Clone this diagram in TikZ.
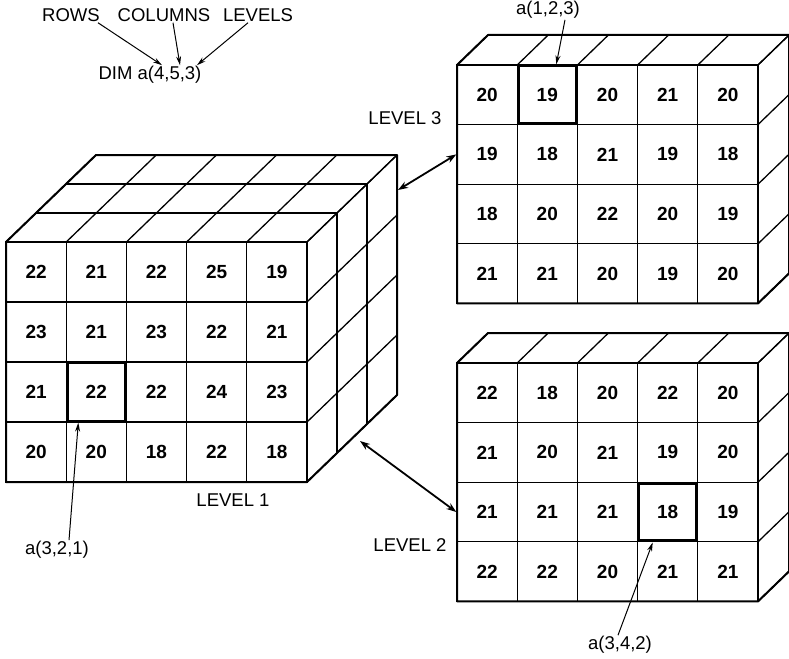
\documentclass[tikz,border=0pt]{standalone}
\usepackage{fontspec}
\setmainfont{Liberation Sans}
\usetikzlibrary{arrows.meta,calc,positioning}

\tikzset{
  cell/.style={draw,line width=1.3pt,minimum width=60.2pt,minimum height=60pt,
    inner sep=0pt,font=\fontsize{19}{19}\selectfont\bfseries},
  gridline/.style={line width=1.3pt,line join=round},
  rim/.style={line width=2pt,line join=round},
  picked/.style={line width=3pt},
  lbl/.style={font=\fontsize{18.5}{20}\selectfont,inner sep=1pt},
  pointer/.style={line width=1pt,-{Stealth[length=9pt,width=5pt]}},
  link/.style={line width=1.8pt,{Stealth[length=10pt,width=7pt]}-{Stealth[length=10pt,width=7pt]}},
}

\begin{document}
\begin{tikzpicture}[x=1pt,y=-1pt]
  \useasboundingbox (0,0) rectangle (789,658);

  % declaration
  \node[lbl] (rows) at (71,15) {ROWS};
  \node[lbl] (cols) at (164,15) {COLUMNS};
  \node[lbl] (levs) at (258,15) {LEVELS};
  \node[lbl] (dim) at (150,75) {DIM a(4,5,3)};
  \draw[pointer] ([xshift=-3pt]rows.south east) -- ([xshift=12pt]dim.north);
  \draw[pointer] ([xshift=9pt]cols.south) -- ([xshift=30pt]dim.north);
  \draw[pointer] ([xshift=-10pt]levs.south) -- ([xshift=47pt]dim.north);

  % level 1 block (all three levels)
  \begin{scope}[shift={(6,242)}]
    \foreach \k in {1,2,3} {
      \draw[gridline] (\k*30,-\k*29) -- ++(301,0);
      \draw[gridline] (301+\k*30,-\k*29) -- ++(0,240);
    }
    \foreach \i in {0,...,5} \draw[gridline] (\i*60.2,0) -- ++(90,-87);
    \foreach \j in {0,...,4} \draw[gridline] (301,\j*60) -- ++(90,-87);
    \foreach \row [count=\r] in {{22,21,22,25,19},{23,21,23,22,21},{21,22,22,24,23},{20,20,18,22,18}}
      \foreach \v [count=\c] in \row
        \node[cell] (L1-\r-\c) at ({(\c-0.5)*60.2},{(\r-0.5)*60}) {\v};
    \draw[rim] (0,0) -- (90,-87) -- (391,-87) -- (391,153) -- (301,240) -- (0,240) -- cycle;
  \end{scope}

  % level 3 slab
  \begin{scope}[shift={(457,65)}]
    \draw[gridline] (31,-30) -- ++(301,0);
    \draw[gridline] (332,-30) -- ++(0,238.4);
    \foreach \i in {0,...,5} \draw[gridline] (\i*60.2,0) -- ++(31,-30);
    \foreach \j in {0,...,4} \draw[gridline] (301,\j*59.6) -- ++(31,-30);
    \foreach \row [count=\r] in {{20,19,20,21,20},{19,18,21,19,18},{18,20,22,20,19},{21,21,20,19,20}}
      \foreach \v [count=\c] in \row
        \node[cell,minimum height=59.6pt] (L3-\r-\c) at ({(\c-0.5)*60.2},{(\r-0.5)*59.6}) {\v};
    \draw[rim] (0,0) -- (31,-30) -- (332,-30) -- (332,208.4) -- (301,238.4) -- (0,238.4) -- cycle;
  \end{scope}

  % level 2 slab
  \begin{scope}[shift={(457,363)}]
    \draw[gridline] (31,-30) -- ++(301,0);
    \draw[gridline] (332,-30) -- ++(0,238.4);
    \foreach \i in {0,...,5} \draw[gridline] (\i*60.2,0) -- ++(31,-30);
    \foreach \j in {0,...,4} \draw[gridline] (301,\j*59.6) -- ++(31,-30);
    \foreach \row [count=\r] in {{22,18,20,22,20},{21,20,21,19,20},{21,21,21,18,19},{22,22,20,21,21}}
      \foreach \v [count=\c] in \row
        \node[cell,minimum height=59.6pt] (L2-\r-\c) at ({(\c-0.5)*60.2},{(\r-0.5)*59.6}) {\v};
    \draw[rim] (0,0) -- (31,-30) -- (332,-30) -- (332,208.4) -- (301,238.4) -- (0,238.4) -- cycle;
  \end{scope}

  % picked elements
  \foreach \c in {L1-3-2,L3-1-2,L2-3-4}
    \draw[picked] ([shift={(1.5pt,1.5pt)}]\c.south west) rectangle ([shift={(-1.5pt,-1.5pt)}]\c.north east);

  \node[lbl] (lev1) at (233,500) {LEVEL 1};
  \node[lbl] (lev3) at (405,118) {LEVEL 3};
  \node[lbl] (lev2) at (410,545) {LEVEL 2};

  \node[lbl] (a321) at (57,550) {a(3,2,1)};
  \node[lbl] (a123) at (548,10) {a(1,2,3)};
  \node[lbl] (a342) at (620,645) {a(3,4,2)};
  \draw[pointer] ([xshift=12pt]a321.north) -- ([xshift=-18pt]L1-3-2.south);
  \draw[pointer] ([xshift=17pt]a123.south) -- ([xshift=9pt]L3-1-2.north);
  \draw[pointer] ([xshift=-2pt]a342.north) -- ([xshift=-15pt]L2-3-4.south);

  % links between levels
  \coordinate (cubeR) at (398,190);
  \coordinate (cubeB) at (360,441);
  \draw[link] (cubeR) -- (L3-2-1.west);
  \draw[link] (cubeB) -- (L2-3-1.west);
\end{tikzpicture}
\end{document}
